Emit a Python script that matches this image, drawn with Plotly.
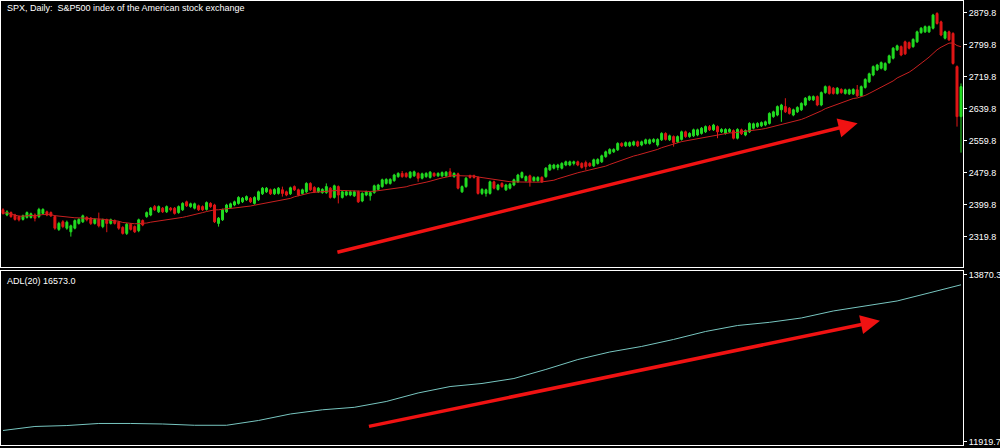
import plotly.graph_objects as go
import pandas as pd

# ---------------- data ----------------
opens = [
    2387,2374,2380,2374,2370,2363,2368,2368,2374,2370,
    2378,2382,2380,2370,2338,2357,2341,2332,2341,2353,
    2357,2368,2366,2353,2363,2345,2362,2353,2360,2356,
    2343,2328,2351,2345,2335,2360,2370,2374,2395,2382,
    2391,2382,2391,2391,2380,2387,2407,2395,2391,2397,
    2395,2388,2403,2399,2353,2362,2382,2393,2399,2403,
    2407,2412,2416,
    2403,2412,2427,2432,2437,2427,2428,2437,2432,2427,
    2445,2437,2428,2432,2453,2443,2432,2430,2430,2441,
    2418,2445,2418,2424,2424,2422,2432,2409,2424,2422,
    2430,2438,2445,2453,2453,2460,2470,2478,2478,2468,
    2472,2478,2466,2470,2468,2478,2472,2472,2472,2482,
    2470,2477,2432,2445,2472,2472,2468,2428,2428,2428,
    2457,2438,
    2453,2437,2441,2449,2457,2468,2460,2472,2460,2460,
    2468,2470,2487,2491,2493,2491,2499,2499,2503,2507,
    2503,2505,2503,2497,2503,2507,2520,2528,2532,2537,
    2553,2547,2547,2549,2557,2549,2553,2553,2557,2549,
    2562,2578,2562,2570,2557,2563,2582,2570,2572,2574,
    2578,2582,2595,2587,2595,2582,2578,2582,2585,2566,
    2587,2574,2582,
    2591,2595,2597,2599,2603,2620,2624,2637,2645,2641,
    2624,2632,2637,2649,2662,2662,2670,2649,2680,2695,
    2691,2678,2688,2678,2677,2677,2687,2672,2693,2707,
    2724,2737,2741,2737,2755,2766,2787,2795,2807,2805,
    2795,2807,2830,2832,2832,2841,2878,2857,2816,2832,
    2828,2745,2620,
]
highs = [
    2391,2386,2383,2377,2373,2375,2383,2380,2378,2392,
    2391,2385,2383,2373,2357,2361,2360,2350,2363,2366,
    2375,2371,2369,2366,2380,2365,2365,2365,2363,2359,
    2346,2354,2354,2348,2365,2363,2383,2394,2399,2398,
    2394,2398,2394,2394,2398,2406,2410,2405,2405,2400,
    2398,2408,2406,2402,2369,2390,2402,2405,2410,2421,
    2419,2423,2419,
    2421,2435,2444,2444,2440,2441,2444,2445,2435,2445,
    2448,2440,2440,2456,2456,2446,2444,2441,2453,2444,
    2450,2448,2435,2435,2435,2435,2435,2431,2435,2433,
    2450,2452,2465,2466,2466,2477,2481,2484,2481,2484,
    2485,2481,2480,2481,2484,2481,2481,2483,2484,2491,
    2481,2480,2448,2469,2475,2475,2471,2441,2440,2460,
    2460,2452,
    2456,2452,2454,2465,2477,2483,2473,2475,2471,2471,
    2471,2494,2502,2502,2502,2506,2510,2510,2510,2510,
    2506,2510,2506,2515,2516,2525,2535,2541,2541,2556,
    2556,2558,2558,2560,2560,2560,2565,2565,2566,2566,
    2581,2581,2575,2573,2573,2585,2585,2581,2590,2590,
    2594,2598,2599,2602,2598,2591,2591,2591,2588,2591,
    2590,2588,2606,
    2605,2606,2608,2610,2631,2635,2648,2652,2666,2644,
    2640,2646,2656,2669,2673,2673,2673,2683,2698,2698,
    2694,2694,2691,2690,2690,2691,2699,2698,2716,2730,
    2748,2752,2758,2756,2775,2794,2800,2798,2810,2808,
    2816,2835,2844,2848,2848,2877,2881,2860,2835,2835,
    2831,2748,2703,
]
lows = [
    2375,2371,2367,2360,2358,2360,2365,2365,2358,2366,
    2375,2371,2369,2337,2334,2341,2337,2320,2338,2350,
    2354,2358,2349,2350,2343,2341,2331,2350,2350,2337,
    2325,2324,2335,2329,2331,2346,2367,2371,2384,2379,
    2379,2379,2383,2375,2377,2384,2394,2392,2388,2384,
    2384,2385,2392,2354,2345,2359,2379,2390,2396,2400,
    2404,2409,2404,
    2400,2409,2424,2429,2424,2424,2425,2420,2421,2424,
    2434,2421,2425,2429,2434,2429,2429,2427,2427,2415,
    2415,2403,2415,2421,2421,2419,2404,2406,2421,2410,
    2427,2435,2442,2450,2450,2457,2467,2467,2467,2465,
    2469,2457,2463,2467,2465,2469,2469,2469,2469,2469,
    2467,2438,2429,2442,2465,2465,2425,2424,2420,2425,
    2438,2435,
    2442,2434,2438,2446,2454,2465,2457,2445,2457,2457,
    2454,2467,2484,2488,2486,2488,2496,2496,2498,2496,
    2490,2487,2494,2494,2500,2504,2517,2525,2529,2534,
    2544,2544,2544,2546,2544,2546,2550,2550,2554,2545,
    2559,2560,2559,2545,2554,2560,2567,2567,2569,2571,
    2575,2579,2584,2584,2566,2579,2575,2579,2563,2563,
    2574,2571,2579,
    2588,2592,2594,2596,2600,2617,2621,2607,2629,2625,
    2621,2629,2634,2646,2659,2659,2646,2646,2677,2675,
    2675,2675,2677,2675,2674,2674,2669,2669,2690,2704,
    2721,2734,2738,2734,2752,2763,2784,2771,2774,2788,
    2792,2804,2827,2829,2829,2838,2850,2821,2813,2809,
    2750,2595,2530,
]
closes = [
    2378,2382,2370,2363,2362,2372,2380,2377,2366,2388,
    2388,2374,2372,2341,2353,2345,2356,2347,2360,2363,
    2372,2362,2353,2363,2347,2362,2353,2362,2353,2341,
    2328,2351,2338,2332,2362,2349,2380,2391,2387,2395,
    2382,2395,2387,2378,2395,2403,2397,2402,2402,2387,
    2387,2405,2395,2357,2366,2387,2399,2402,2407,2418,
    2416,2420,2407,
    2418,2432,2441,2441,2427,2438,2441,2428,2424,2442,
    2437,2424,2437,2453,2437,2432,2441,2438,2445,2418,
    2447,2424,2432,2432,2432,2432,2407,2428,2432,2430,
    2447,2449,2462,2463,2463,2474,2478,2470,2470,2481,
    2482,2466,2477,2478,2481,2472,2478,2480,2481,2472,
    2478,2441,2445,2466,2468,2468,2428,2438,2437,2457,
    2441,2449,
    2445,2449,2451,2462,2474,2480,2470,2457,2468,2468,
    2457,2491,2499,2499,2499,2503,2507,2507,2507,2499,
    2493,2495,2497,2512,2513,2522,2532,2538,2538,2553,
    2547,2555,2555,2557,2547,2557,2562,2562,2563,2563,
    2578,2563,2572,2555,2570,2582,2570,2578,2587,2587,
    2591,2595,2587,2599,2582,2588,2588,2588,2566,2588,
    2577,2585,2603,
    2602,2603,2605,2607,2628,2632,2645,2649,2632,2628,
    2637,2643,2653,2666,2670,2670,2649,2680,2695,2678,
    2678,2691,2680,2687,2687,2688,2672,2695,2713,2727,
    2745,2749,2755,2753,2772,2791,2797,2774,2777,2791,
    2813,2832,2841,2845,2845,2874,2853,2824,2832,2812,
    2753,2620,2695,
]
bars = list(range(len(closes)))
ma_period = 20

adl_bars = [0, 8, 16, 24, 32, 40, 48, 56, 64, 72, 80, 88, 96, 104, 112, 120,
            128, 136, 144, 152, 160, 168, 176, 184, 192, 200, 208, 216, 224, 232, 240]
adl_vals = [12051, 12098, 12109, 12133, 12133, 12127, 12112, 12112, 12168, 12244,
            12293, 12322, 12390, 12490, 12565, 12601, 12659, 12765, 12881, 12969,
            13034, 13116, 13209, 13279, 13316, 13367, 13449, 13508, 13566, 13660, 13755]

price_ticks = [2319.8, 2399.8, 2479.8, 2559.8, 2639.8, 2719.8, 2799.8, 2879.8]
adl_ticks = [11919.7, 13870.3]

title_text = "SPX, Daily:\u00a0 S&P500 index of the American stock exchange"
adl_text = "ADL(20) 16573.0"

# ---------------- styling ----------------
GREEN = "#22dd22"
RED = "#e01616"
MA_COLOR = "#c82020"
ADL_COLOR = "#78c6c0"
ARROW = "#f01212"
FONT = "Liberation Sans"
FS = 9

ma = pd.Series(closes).rolling(ma_period, min_periods=1).mean()

fig = go.Figure()
fig.add_trace(go.Candlestick(
    x=bars, open=opens, high=highs, low=lows, close=closes,
    increasing=dict(line=dict(color=GREEN, width=1), fillcolor=GREEN),
    decreasing=dict(line=dict(color=RED, width=1), fillcolor=RED),
    whiskerwidth=0, xaxis="x", yaxis="y", showlegend=False, hoverinfo="skip"))
fig.add_trace(go.Scatter(
    x=bars, y=ma, mode="lines", line=dict(color=MA_COLOR, width=1),
    xaxis="x", yaxis="y", showlegend=False, hoverinfo="skip"))
fig.add_trace(go.Scatter(
    x=adl_bars, y=adl_vals, mode="lines", line=dict(color=ADL_COLOR, width=1),
    xaxis="x2", yaxis="y2", showlegend=False, hoverinfo="skip"))

axis_common = dict(showgrid=False, zeroline=False, showline=True, linecolor="white",
                   linewidth=1, mirror=True)
xr = [-0.5, len(closes) - 0.5]

fig.update_layout(
    width=1000, height=448,
    paper_bgcolor="black", plot_bgcolor="black",
    margin=dict(l=1, r=37, t=1, b=3, autoexpand=False),
    showlegend=False,
    boxgap=0.3,
    xaxis=dict(domain=[0, 1], anchor="y", range=xr, showticklabels=False, ticks="",
               rangeslider=dict(visible=False), **axis_common),
    yaxis=dict(domain=[0.401, 1], anchor="x", side="right", range=[2244.1, 2909.1],
               tickvals=price_ticks, ticktext=[f"{v:.1f}" for v in price_ticks],
               ticks="outside", ticklen=3, tickcolor="white",
               tickfont=dict(color="white", size=FS, family=FONT), **axis_common),
    xaxis2=dict(domain=[0, 1], anchor="y2", range=xr, showticklabels=False, ticks="",
                **axis_common),
    yaxis2=dict(domain=[0, 0.392], anchor="x2", side="right", range=[11881.3, 13917.1],
                tickvals=adl_ticks, ticktext=[f"{v:.1f}" for v in adl_ticks],
                ticks="outside", ticklen=3, tickcolor="white",
                tickfont=dict(color="white", size=FS, family=FONT), **axis_common),
    annotations=[
        dict(text=title_text, xref="paper", yref="paper", x=0.004, y=0.984,
             xanchor="left", yanchor="middle", showarrow=False,
             font=dict(color="white", size=FS, family=FONT)),
        dict(text=adl_text, xref="paper", yref="paper", x=0.004, y=0.369,
             xanchor="left", yanchor="middle", showarrow=False,
             font=dict(color="white", size=FS, family=FONT)),
        dict(x=214.1, y=2603.4, ax=83.4, ay=2280.0, xref="x", yref="y",
             axref="x", ayref="y", text="", showarrow=True, arrowhead=2,
             arrowsize=1.1, arrowwidth=3.5, arrowcolor=ARROW),
        dict(x=219.7, y=13335.6, ax=91.3, ay=12095.4, xref="x2", yref="y2",
             axref="x2", ayref="y2", text="", showarrow=True, arrowhead=2,
             arrowsize=1.1, arrowwidth=3.5, arrowcolor=ARROW),
    ],
)

fig.write_html("out.html", config={"displayModeBar": False},
               post_script="document.body.style.margin='0';document.body.style.overflow='hidden';")
